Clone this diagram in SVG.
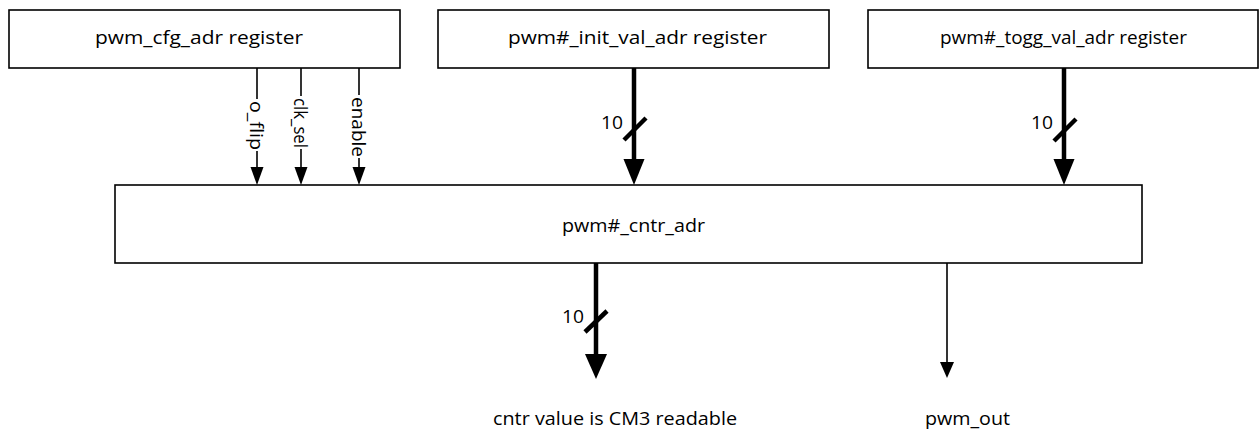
<svg xmlns="http://www.w3.org/2000/svg" width="1259" height="432" viewBox="0 0 1259 432">
<style>
  .box { fill: #ffffff; stroke: #000000; stroke-width: 1.6; }
  .t { font-family: "Open Sans", "Liberation Sans", sans-serif; font-size: 18px; fill: #000000; }
  .lbl { font-family: "Open Sans", "Liberation Sans", sans-serif; font-size: 18px; fill: #000000; }
  .num { font-family: "Open Sans", "Liberation Sans", sans-serif; font-size: 19px; fill: #000000; }
  .thin { stroke: #000000; stroke-width: 1.6; fill: none; }
  .thick { stroke: #000000; stroke-width: 4.5; fill: none; }
  .head { fill: #000000; stroke: none; }
</style>
<rect width="1259" height="432" fill="#ffffff"/>
<g id="connectors">
  <!-- o_flip -->
  <line class="thin" x1="257" y1="68" x2="257" y2="99"/>
  <line class="thin" x1="257" y1="151" x2="257" y2="170"/>
  <polygon class="head" points="250.5,167 263.5,167 257,185"/>
  <text class="lbl" transform="translate(250,101) rotate(90)" textLength="49" lengthAdjust="spacingAndGlyphs">o_flip</text>
  <!-- clk_sel -->
  <line class="thin" x1="301" y1="68" x2="301" y2="96"/>
  <line class="thin" x1="301" y1="149" x2="301" y2="170"/>
  <polygon class="head" points="294.5,167 307.5,167 301,185"/>
  <text class="lbl" transform="translate(294,98) rotate(90)" textLength="50" lengthAdjust="spacingAndGlyphs">clk_sel</text>
  <!-- enable -->
  <line class="thin" x1="359" y1="68" x2="359" y2="95"/>
  <line class="thin" x1="359" y1="158" x2="359" y2="170"/>
  <polygon class="head" points="352.5,167 365.5,167 359,185"/>
  <text class="lbl" transform="translate(352,97) rotate(90)" textLength="60" lengthAdjust="spacingAndGlyphs">enable</text>
  <!-- init_val bus -->
  <line class="thick" x1="634" y1="68" x2="634" y2="165"/>
  <polygon class="head" points="623.5,159 644.5,159 634,185"/>
  <line class="thick" x1="624" y1="140" x2="646" y2="118"/>
  <text class="num" x="601" y="129" textLength="22" lengthAdjust="spacingAndGlyphs">10</text>
  <!-- togg_val bus -->
  <line class="thick" x1="1064" y1="68" x2="1064" y2="165"/>
  <polygon class="head" points="1053.5,159 1074.5,159 1064,185"/>
  <line class="thick" x1="1054" y1="141" x2="1076" y2="119"/>
  <text class="num" x="1031" y="129" textLength="22" lengthAdjust="spacingAndGlyphs">10</text>
  <!-- cntr output bus -->
  <line class="thick" x1="596" y1="263" x2="596" y2="360"/>
  <polygon class="head" points="585,354 607,354 596,379"/>
  <line class="thick" x1="585" y1="332" x2="607" y2="311"/>
  <text class="num" x="562" y="323" textLength="22" lengthAdjust="spacingAndGlyphs">10</text>
  <!-- pwm_out -->
  <line class="thin" x1="947" y1="263" x2="947" y2="365"/>
  <polygon class="head" points="940,362 954,362 947,378"/>
  <text class="t" x="615" y="425" text-anchor="middle" textLength="244" lengthAdjust="spacingAndGlyphs">cntr value is CM3 readable</text>
  <text class="t" x="967.5" y="425" text-anchor="middle" textLength="85" lengthAdjust="spacingAndGlyphs">pwm_out</text>
</g>
<g id="cfg">
  <rect class="box" x="9" y="10" width="391" height="58"/>
  <text class="t" x="199" y="44" text-anchor="middle" textLength="208" lengthAdjust="spacingAndGlyphs">pwm_cfg_adr register</text>
</g>
<g id="init">
  <rect class="box" x="438" y="10" width="391" height="58"/>
  <text class="t" x="637.5" y="44" text-anchor="middle" textLength="259" lengthAdjust="spacingAndGlyphs">pwm#_init_val_adr register</text>
</g>
<g id="togg">
  <rect class="box" x="868" y="10" width="390" height="58"/>
  <text class="t" x="1063.5" y="44" text-anchor="middle" textLength="247" lengthAdjust="spacingAndGlyphs">pwm#_togg_val_adr register</text>
</g>
<g id="cntr">
  <rect class="box" x="115" y="185" width="1027" height="78"/>
  <text class="t" x="633.5" y="232" text-anchor="middle" textLength="143" lengthAdjust="spacingAndGlyphs">pwm#_cntr_adr</text>
</g>
</svg>
